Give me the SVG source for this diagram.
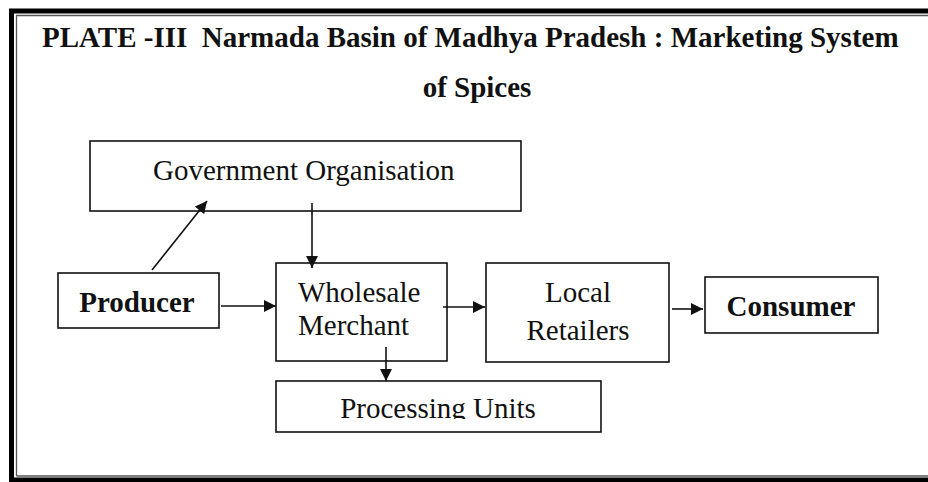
<svg xmlns="http://www.w3.org/2000/svg" width="928" height="482" viewBox="0 0 928 482">
<style>
  .box { fill: #fff; stroke: #111; stroke-width: 1.6; }
  .t { font-family: "Liberation Serif", "Times New Roman", serif; font-size: 29px; fill: #111; }
  .b { font-weight: bold; }
  .c { stroke: #111; stroke-width: 1.6; fill: none; }
</style>
<defs>
  <marker id="ah" viewBox="0 0 12 12" refX="12" refY="6" markerWidth="12" markerHeight="12" markerUnits="userSpaceOnUse" orient="auto">
    <path d="M0,0 L12,6 L0,12 Z" fill="#111"/>
  </marker>
  <clipPath id="pclip"><rect x="276" y="381" width="326" height="38"/></clipPath>
</defs>
<rect x="0" y="0" width="928" height="482" fill="#fff"/>
<g id="frame">
  <path d="M11.5,482 V11 H928" fill="none" stroke="#000" stroke-width="5"/>
  <path d="M9,480 H928" fill="none" stroke="#000" stroke-width="5"/>
  <path d="M16.5,476 V15.5 H928 M16.5,476 H928" fill="none" stroke="#555" stroke-width="1.3"/>
</g>
<g id="title">
  <text class="t b" x="42" y="46.5" font-size="29.4" xml:space="preserve">PLATE -III  Narmada Basin of Madhya Pradesh : Marketing System</text>
  <text class="t b" x="477" y="97" text-anchor="middle" font-size="29.4">of Spices</text>
</g>
<g id="government">
  <rect class="box" x="90" y="141" width="431" height="70"/>
  <text class="t" x="153" y="180">Government Organisation</text>
</g>
<g id="producer">
  <rect class="box" x="58" y="273" width="161" height="55"/>
  <text class="t b" x="137" y="312" text-anchor="middle">Producer</text>
</g>
<g id="wholesale">
  <rect class="box" x="276" y="263" width="171" height="98"/>
  <text class="t" x="298" y="302">Wholesale</text>
  <text class="t" x="298" y="335">Merchant</text>
</g>
<g id="local">
  <rect class="box" x="486" y="263" width="183" height="99"/>
  <text class="t" x="578" y="302" text-anchor="middle">Local</text>
  <text class="t" x="578" y="340" text-anchor="middle">Retailers</text>
</g>
<g id="consumer">
  <rect class="box" x="705" y="277" width="173" height="56"/>
  <text class="t b" x="791" y="316" text-anchor="middle">Consumer</text>
</g>
<g id="processing">
  <rect class="box" x="276" y="381" width="325" height="51"/>
  <text class="t" x="438" y="418" text-anchor="middle" clip-path="url(#pclip)">Processing Units</text>
</g>
<g id="connectors">
  <line class="c" x1="152" y1="270" x2="207" y2="201" marker-end="url(#ah)"/>
  <line class="c" x1="312" y1="203" x2="312" y2="268" marker-end="url(#ah)"/>
  <line class="c" x1="221" y1="306" x2="276" y2="306" marker-end="url(#ah)"/>
  <line class="c" x1="443" y1="307" x2="485" y2="307" marker-end="url(#ah)"/>
  <line class="c" x1="672" y1="309" x2="703" y2="309" marker-end="url(#ah)"/>
  <line class="c" x1="386" y1="347" x2="386" y2="381" marker-end="url(#ah)"/>
</g>
</svg>
